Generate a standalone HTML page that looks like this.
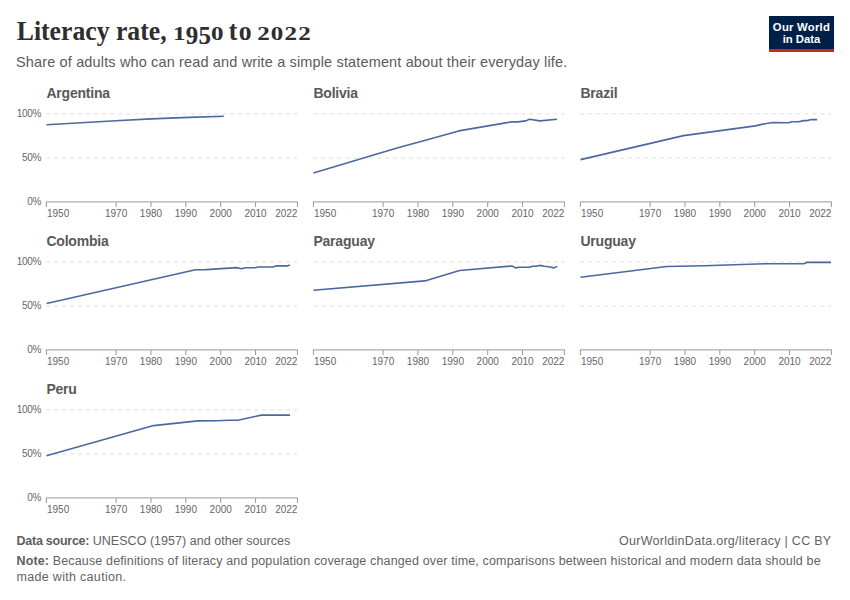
<!DOCTYPE html>
<html><head><meta charset="utf-8"><style>
html,body{margin:0;padding:0;background:#fff;}
body{width:850px;height:600px;position:relative;overflow:hidden;font-family:"Liberation Sans",sans-serif;}
.title{position:absolute;left:16.8px;top:16.5px;font-family:"Liberation Serif",serif;font-weight:bold;font-size:25.7px;color:#2e2e2e;white-space:nowrap;line-height:30px;transform:scaleY(1.08);transform-origin:0 23.67px;}
.os{display:inline-block;-webkit-text-stroke:0.1px #2e2e2e;font-size:25px;line-height:25px;letter-spacing:0.2px;transform:scaleY(0.685);transform-origin:0 20.94px;}
.os2{letter-spacing:1.2px;margin-left:-0.9px;}
.dn{display:inline-block;position:relative;top:-1.2px;transform:scaleY(1.36);transform-origin:0 4px;}
.sub{position:absolute;left:16px;top:52.8px;font-size:14.5px;letter-spacing:0.145px;color:#5b5b5b;white-space:nowrap;line-height:18px;}
.logo{position:absolute;left:769px;top:16px;width:65px;height:33px;background:#002147;border-bottom:3px solid #ce261e;color:#fff;font-weight:bold;font-size:11.3px;line-height:12.2px;text-align:center;}
.logo div{padding-top:4.5px;}
svg{position:absolute;left:0;top:0;}
.ax{font-size:10px;fill:#666;}
.ay{font-size:10px;fill:#666;letter-spacing:-0.35px;}
.pt{font-size:14px;font-weight:bold;fill:#595959;letter-spacing:-0.2px;}
.foot{position:absolute;left:16.5px;font-size:12.5px;color:#636363;white-space:nowrap;line-height:15.5px;}
.foot b{color:#5e5e5e;}
</style></head><body>
<div class="title">Literacy rate, <span class="os">1<span class="dn">9</span><span class="dn">5</span>0</span> <span style="letter-spacing:1.5px;margin-left:-1.5px">t</span>o <span class="os os2">2022</span></div>
<div class="sub">Share of adults who can read and write a simple statement about their everyday life.</div>
<div class="logo"><div><span style="letter-spacing:0.25px">Our World</span><br>in Data</div></div>
<svg width="850" height="600" viewBox="0 0 850 600" font-family="Liberation Sans, sans-serif">
<line x1="46.4" y1="113.90" x2="297.4" y2="113.90" stroke="#dddddd" stroke-width="1" stroke-dasharray="4,4"/>
<line x1="46.4" y1="158.05" x2="297.4" y2="158.05" stroke="#dddddd" stroke-width="1" stroke-dasharray="4,4"/>
<line x1="45.9" y1="201.90" x2="297.9" y2="201.90" stroke="#999999" stroke-width="1"/>
<line x1="46.40" y1="202.00" x2="46.40" y2="207.00" stroke="#999999" stroke-width="1"/>
<line x1="116.12" y1="202.00" x2="116.12" y2="207.00" stroke="#999999" stroke-width="1"/>
<line x1="150.98" y1="202.00" x2="150.98" y2="207.00" stroke="#999999" stroke-width="1"/>
<line x1="185.84" y1="202.00" x2="185.84" y2="207.00" stroke="#999999" stroke-width="1"/>
<line x1="220.71" y1="202.00" x2="220.71" y2="207.00" stroke="#999999" stroke-width="1"/>
<line x1="255.57" y1="202.00" x2="255.57" y2="207.00" stroke="#999999" stroke-width="1"/>
<line x1="297.40" y1="202.00" x2="297.40" y2="207.00" stroke="#999999" stroke-width="1"/>
<text x="47.00" y="217.10" text-anchor="start" class="ax">1950</text>
<text x="116.12" y="217.10" text-anchor="middle" class="ax">1970</text>
<text x="150.98" y="217.10" text-anchor="middle" class="ax">1980</text>
<text x="185.84" y="217.10" text-anchor="middle" class="ax">1990</text>
<text x="220.71" y="217.10" text-anchor="middle" class="ax">2000</text>
<text x="255.57" y="217.10" text-anchor="middle" class="ax">2010</text>
<text x="297.40" y="217.10" text-anchor="end" class="ax">2022</text>
<text x="41" y="116.80" text-anchor="end" class="ay">100%</text>
<text x="41" y="160.95" text-anchor="end" class="ay">50%</text>
<text x="41" y="205.10" text-anchor="end" class="ay">0%</text>
<text x="46.4" y="97.50" class="pt">Argentina</text>
<polyline points="46.5,124.7 116.0,120.8 151.0,118.9 189.0,117.4 223.8,116.2" fill="none" stroke="#4a699d" stroke-width="1.6" stroke-linejoin="round" stroke-linecap="butt"/>
<line x1="313.4" y1="113.90" x2="564.4" y2="113.90" stroke="#dddddd" stroke-width="1" stroke-dasharray="4,4"/>
<line x1="313.4" y1="158.05" x2="564.4" y2="158.05" stroke="#dddddd" stroke-width="1" stroke-dasharray="4,4"/>
<line x1="312.9" y1="201.90" x2="564.9" y2="201.90" stroke="#999999" stroke-width="1"/>
<line x1="313.40" y1="202.00" x2="313.40" y2="207.00" stroke="#999999" stroke-width="1"/>
<line x1="383.12" y1="202.00" x2="383.12" y2="207.00" stroke="#999999" stroke-width="1"/>
<line x1="417.98" y1="202.00" x2="417.98" y2="207.00" stroke="#999999" stroke-width="1"/>
<line x1="452.84" y1="202.00" x2="452.84" y2="207.00" stroke="#999999" stroke-width="1"/>
<line x1="487.71" y1="202.00" x2="487.71" y2="207.00" stroke="#999999" stroke-width="1"/>
<line x1="522.57" y1="202.00" x2="522.57" y2="207.00" stroke="#999999" stroke-width="1"/>
<line x1="564.40" y1="202.00" x2="564.40" y2="207.00" stroke="#999999" stroke-width="1"/>
<text x="314.00" y="217.10" text-anchor="start" class="ax">1950</text>
<text x="383.12" y="217.10" text-anchor="middle" class="ax">1970</text>
<text x="417.98" y="217.10" text-anchor="middle" class="ax">1980</text>
<text x="452.84" y="217.10" text-anchor="middle" class="ax">1990</text>
<text x="487.71" y="217.10" text-anchor="middle" class="ax">2000</text>
<text x="522.57" y="217.10" text-anchor="middle" class="ax">2010</text>
<text x="564.40" y="217.10" text-anchor="end" class="ax">2022</text>
<text x="313.4" y="97.50" class="pt">Bolivia</text>
<polyline points="313.4,173.0 369.4,156.3 398.8,147.6 420.0,141.7 458.8,130.9 511.2,121.9 517.6,121.9 525.9,120.9 529.4,119.2 540.0,120.9 557.0,119.2" fill="none" stroke="#4a699d" stroke-width="1.6" stroke-linejoin="round" stroke-linecap="butt"/>
<line x1="580.4" y1="113.90" x2="831.4" y2="113.90" stroke="#dddddd" stroke-width="1" stroke-dasharray="4,4"/>
<line x1="580.4" y1="158.05" x2="831.4" y2="158.05" stroke="#dddddd" stroke-width="1" stroke-dasharray="4,4"/>
<line x1="579.9" y1="201.90" x2="831.9" y2="201.90" stroke="#999999" stroke-width="1"/>
<line x1="580.40" y1="202.00" x2="580.40" y2="207.00" stroke="#999999" stroke-width="1"/>
<line x1="650.12" y1="202.00" x2="650.12" y2="207.00" stroke="#999999" stroke-width="1"/>
<line x1="684.98" y1="202.00" x2="684.98" y2="207.00" stroke="#999999" stroke-width="1"/>
<line x1="719.84" y1="202.00" x2="719.84" y2="207.00" stroke="#999999" stroke-width="1"/>
<line x1="754.71" y1="202.00" x2="754.71" y2="207.00" stroke="#999999" stroke-width="1"/>
<line x1="789.57" y1="202.00" x2="789.57" y2="207.00" stroke="#999999" stroke-width="1"/>
<line x1="831.40" y1="202.00" x2="831.40" y2="207.00" stroke="#999999" stroke-width="1"/>
<text x="581.00" y="217.10" text-anchor="start" class="ax">1950</text>
<text x="650.12" y="217.10" text-anchor="middle" class="ax">1970</text>
<text x="684.98" y="217.10" text-anchor="middle" class="ax">1980</text>
<text x="719.84" y="217.10" text-anchor="middle" class="ax">1990</text>
<text x="754.71" y="217.10" text-anchor="middle" class="ax">2000</text>
<text x="789.57" y="217.10" text-anchor="middle" class="ax">2010</text>
<text x="831.40" y="217.10" text-anchor="end" class="ax">2022</text>
<text x="580.4" y="97.50" class="pt">Brazil</text>
<polyline points="580.6,159.6 683.6,135.6 755.3,125.9 765.0,123.7 773.0,122.5 788.8,122.7 791.8,121.8 798.8,121.8 803.5,120.6 807.6,120.6 811.2,119.6 817.1,119.6" fill="none" stroke="#4a699d" stroke-width="1.6" stroke-linejoin="round" stroke-linecap="butt"/>
<line x1="46.4" y1="261.90" x2="297.4" y2="261.90" stroke="#dddddd" stroke-width="1" stroke-dasharray="4,4"/>
<line x1="46.4" y1="306.05" x2="297.4" y2="306.05" stroke="#dddddd" stroke-width="1" stroke-dasharray="4,4"/>
<line x1="45.9" y1="349.90" x2="297.9" y2="349.90" stroke="#999999" stroke-width="1"/>
<line x1="46.40" y1="350.00" x2="46.40" y2="355.00" stroke="#999999" stroke-width="1"/>
<line x1="116.12" y1="350.00" x2="116.12" y2="355.00" stroke="#999999" stroke-width="1"/>
<line x1="150.98" y1="350.00" x2="150.98" y2="355.00" stroke="#999999" stroke-width="1"/>
<line x1="185.84" y1="350.00" x2="185.84" y2="355.00" stroke="#999999" stroke-width="1"/>
<line x1="220.71" y1="350.00" x2="220.71" y2="355.00" stroke="#999999" stroke-width="1"/>
<line x1="255.57" y1="350.00" x2="255.57" y2="355.00" stroke="#999999" stroke-width="1"/>
<line x1="297.40" y1="350.00" x2="297.40" y2="355.00" stroke="#999999" stroke-width="1"/>
<text x="47.00" y="365.10" text-anchor="start" class="ax">1950</text>
<text x="116.12" y="365.10" text-anchor="middle" class="ax">1970</text>
<text x="150.98" y="365.10" text-anchor="middle" class="ax">1980</text>
<text x="185.84" y="365.10" text-anchor="middle" class="ax">1990</text>
<text x="220.71" y="365.10" text-anchor="middle" class="ax">2000</text>
<text x="255.57" y="365.10" text-anchor="middle" class="ax">2010</text>
<text x="297.40" y="365.10" text-anchor="end" class="ax">2022</text>
<text x="41" y="264.80" text-anchor="end" class="ay">100%</text>
<text x="41" y="308.95" text-anchor="end" class="ay">50%</text>
<text x="41" y="353.10" text-anchor="end" class="ay">0%</text>
<text x="46.4" y="245.50" class="pt">Colombia</text>
<polyline points="46.6,303.5 195.4,269.7 206.2,269.6 236.6,267.6 241.5,268.8 245.6,267.7 254.7,267.7 258.6,267.0 272.8,267.0 276.1,265.9 287.1,265.9 290.0,265.1" fill="none" stroke="#4a699d" stroke-width="1.6" stroke-linejoin="round" stroke-linecap="butt"/>
<line x1="313.4" y1="261.90" x2="564.4" y2="261.90" stroke="#dddddd" stroke-width="1" stroke-dasharray="4,4"/>
<line x1="313.4" y1="306.05" x2="564.4" y2="306.05" stroke="#dddddd" stroke-width="1" stroke-dasharray="4,4"/>
<line x1="312.9" y1="349.90" x2="564.9" y2="349.90" stroke="#999999" stroke-width="1"/>
<line x1="313.40" y1="350.00" x2="313.40" y2="355.00" stroke="#999999" stroke-width="1"/>
<line x1="383.12" y1="350.00" x2="383.12" y2="355.00" stroke="#999999" stroke-width="1"/>
<line x1="417.98" y1="350.00" x2="417.98" y2="355.00" stroke="#999999" stroke-width="1"/>
<line x1="452.84" y1="350.00" x2="452.84" y2="355.00" stroke="#999999" stroke-width="1"/>
<line x1="487.71" y1="350.00" x2="487.71" y2="355.00" stroke="#999999" stroke-width="1"/>
<line x1="522.57" y1="350.00" x2="522.57" y2="355.00" stroke="#999999" stroke-width="1"/>
<line x1="564.40" y1="350.00" x2="564.40" y2="355.00" stroke="#999999" stroke-width="1"/>
<text x="314.00" y="365.10" text-anchor="start" class="ax">1950</text>
<text x="383.12" y="365.10" text-anchor="middle" class="ax">1970</text>
<text x="417.98" y="365.10" text-anchor="middle" class="ax">1980</text>
<text x="452.84" y="365.10" text-anchor="middle" class="ax">1990</text>
<text x="487.71" y="365.10" text-anchor="middle" class="ax">2000</text>
<text x="522.57" y="365.10" text-anchor="middle" class="ax">2010</text>
<text x="564.40" y="365.10" text-anchor="end" class="ax">2022</text>
<text x="313.4" y="245.50" class="pt">Paraguay</text>
<polyline points="313.4,290.2 424.8,280.9 459.6,270.5 511.9,266.0 515.6,267.9 519.1,267.3 529.4,267.3 532.6,266.3 536.5,266.3 539.8,265.4 544.3,266.3 550.1,267.0 554.0,267.9 557.2,266.4" fill="none" stroke="#4a699d" stroke-width="1.6" stroke-linejoin="round" stroke-linecap="butt"/>
<line x1="580.4" y1="261.90" x2="831.4" y2="261.90" stroke="#dddddd" stroke-width="1" stroke-dasharray="4,4"/>
<line x1="580.4" y1="306.05" x2="831.4" y2="306.05" stroke="#dddddd" stroke-width="1" stroke-dasharray="4,4"/>
<line x1="579.9" y1="349.90" x2="831.9" y2="349.90" stroke="#999999" stroke-width="1"/>
<line x1="580.40" y1="350.00" x2="580.40" y2="355.00" stroke="#999999" stroke-width="1"/>
<line x1="650.12" y1="350.00" x2="650.12" y2="355.00" stroke="#999999" stroke-width="1"/>
<line x1="684.98" y1="350.00" x2="684.98" y2="355.00" stroke="#999999" stroke-width="1"/>
<line x1="719.84" y1="350.00" x2="719.84" y2="355.00" stroke="#999999" stroke-width="1"/>
<line x1="754.71" y1="350.00" x2="754.71" y2="355.00" stroke="#999999" stroke-width="1"/>
<line x1="789.57" y1="350.00" x2="789.57" y2="355.00" stroke="#999999" stroke-width="1"/>
<line x1="831.40" y1="350.00" x2="831.40" y2="355.00" stroke="#999999" stroke-width="1"/>
<text x="581.00" y="365.10" text-anchor="start" class="ax">1950</text>
<text x="650.12" y="365.10" text-anchor="middle" class="ax">1970</text>
<text x="684.98" y="365.10" text-anchor="middle" class="ax">1980</text>
<text x="719.84" y="365.10" text-anchor="middle" class="ax">1990</text>
<text x="754.71" y="365.10" text-anchor="middle" class="ax">2000</text>
<text x="789.57" y="365.10" text-anchor="middle" class="ax">2010</text>
<text x="831.40" y="365.10" text-anchor="end" class="ax">2022</text>
<text x="580.4" y="245.50" class="pt">Uruguay</text>
<polyline points="580.4,277.2 666.7,266.5 705.0,265.7 765.9,263.7 803.8,263.7 806.8,262.4 831.0,262.4" fill="none" stroke="#4a699d" stroke-width="1.6" stroke-linejoin="round" stroke-linecap="butt"/>
<line x1="46.4" y1="409.90" x2="297.4" y2="409.90" stroke="#dddddd" stroke-width="1" stroke-dasharray="4,4"/>
<line x1="46.4" y1="454.05" x2="297.4" y2="454.05" stroke="#dddddd" stroke-width="1" stroke-dasharray="4,4"/>
<line x1="45.9" y1="497.90" x2="297.9" y2="497.90" stroke="#999999" stroke-width="1"/>
<line x1="46.40" y1="498.00" x2="46.40" y2="503.00" stroke="#999999" stroke-width="1"/>
<line x1="116.12" y1="498.00" x2="116.12" y2="503.00" stroke="#999999" stroke-width="1"/>
<line x1="150.98" y1="498.00" x2="150.98" y2="503.00" stroke="#999999" stroke-width="1"/>
<line x1="185.84" y1="498.00" x2="185.84" y2="503.00" stroke="#999999" stroke-width="1"/>
<line x1="220.71" y1="498.00" x2="220.71" y2="503.00" stroke="#999999" stroke-width="1"/>
<line x1="255.57" y1="498.00" x2="255.57" y2="503.00" stroke="#999999" stroke-width="1"/>
<line x1="297.40" y1="498.00" x2="297.40" y2="503.00" stroke="#999999" stroke-width="1"/>
<text x="47.00" y="513.10" text-anchor="start" class="ax">1950</text>
<text x="116.12" y="513.10" text-anchor="middle" class="ax">1970</text>
<text x="150.98" y="513.10" text-anchor="middle" class="ax">1980</text>
<text x="185.84" y="513.10" text-anchor="middle" class="ax">1990</text>
<text x="220.71" y="513.10" text-anchor="middle" class="ax">2000</text>
<text x="255.57" y="513.10" text-anchor="middle" class="ax">2010</text>
<text x="297.40" y="513.10" text-anchor="end" class="ax">2022</text>
<text x="41" y="412.80" text-anchor="end" class="ay">100%</text>
<text x="41" y="456.95" text-anchor="end" class="ay">50%</text>
<text x="41" y="501.10" text-anchor="end" class="ay">0%</text>
<text x="46.4" y="393.50" class="pt">Peru</text>
<polyline points="46.5,455.8 153.6,425.6 197.8,420.9 217.2,420.7 228.8,420.3 237.9,420.3 261.2,415.1 290.0,415.1" fill="none" stroke="#4a699d" stroke-width="1.6" stroke-linejoin="round" stroke-linecap="butt"/>
</svg>
<div class="foot" style="top:534px;letter-spacing:0.03px;"><b style="letter-spacing:-0.25px">Data source:</b> UNESCO (1957) and other sources</div>
<div class="foot" style="top:534px;left:auto;right:18.5px;letter-spacing:0.29px;">OurWorldinData.org/literacy | CC BY</div>
<div class="foot" style="top:554px;letter-spacing:0.144px;"><b>Note:</b> Because definitions of literacy and population coverage changed over time, comparisons between historical and modern data should be<br><span style="letter-spacing:0.31px">made with caution.</span></div>
</body></html>
